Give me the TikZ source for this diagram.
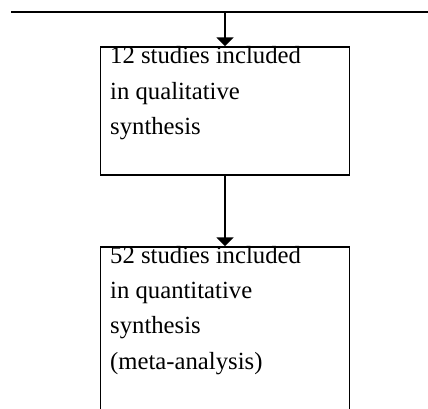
\documentclass[tikz,border=0pt]{standalone}
\usepackage{fontspec}
\setmainfont{Liberation Serif}
\usetikzlibrary{arrows.meta}
\begin{document}
\begin{tikzpicture}[x=1pt,y=1pt,
  box/.style={draw=black,line width=1.5pt,rectangle,inner sep=0pt},
  txt/.style={anchor=north west,inner sep=0pt,align=left,font=\fontsize{24.7}{35.3}\selectfont},
  conn/.style={line width=2pt,-{Triangle[width=17pt,length=9pt]}}]
\useasboundingbox (0,0) rectangle (428,-408);
\coordinate (hl) at (11,-12);
\coordinate (hr) at (428,-12);
\coordinate (hm) at (225,-12);
\draw[line width=2pt] (hl) -- (hr);
\node[box,minimum width=249pt,minimum height=128pt] (b1) at (225,-111) {};
\node[box,minimum width=249pt,minimum height=180pt] (b2) at (225,-337) {};
\node[txt] (t1) at (110,-46.5) {12 studies included\\in qualitative\\synthesis};
\node[txt] (t2) at (110,-246) {52 studies included\\in quantitative\\synthesis\\(meta-analysis)};
\draw[conn] (hm) -- (b1.north);
\draw[conn] (b1.south) -- (b2.north);
\end{tikzpicture}
\end{document}
